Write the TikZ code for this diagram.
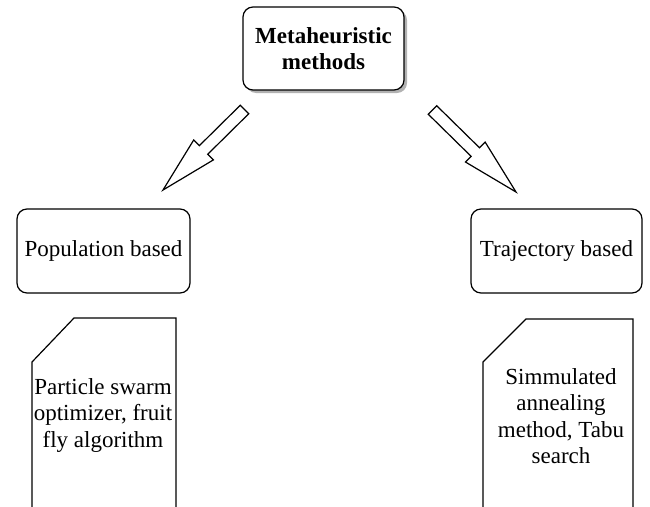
\documentclass[tikz,border=0pt]{standalone}
\usepackage{fontspec}
\setmainfont{Liberation Serif}
\usetikzlibrary{calc,shadows}

\tikzset{
  roundbox/.style={draw, line width=1.2pt, rounded corners=10pt, fill=white,
    align=center, inner sep=2pt, font=\fontsize{23}{26}\selectfont},
  topbox/.style={roundbox, font=\fontsize{23}{26}\selectfont\bfseries,
    drop shadow={shadow xshift=3pt, shadow yshift=-3pt, fill=gray!60, opacity=1}},
  docshape/.style={draw, line width=1.2pt},
  doctext/.style={align=center, inner sep=0pt, font=\fontsize{23}{26.5}\selectfont},
  blockar/.style={draw, line width=1.2pt, fill=white, line join=miter}
}

% hollow block arrow from tail #1 to tip #2
\newcommand\blockarrow[2]{%
  \coordinate (#1-base) at ($(#2)!57pt!(#1)$);
  \draw[blockar] ($(#1)!6pt!90:(#2)$) -- ($(#1-base)!6pt!90:(#2)$)
    -- ($(#1-base)!14pt!90:(#2)$) -- (#2)
    -- ($(#1-base)!14pt!-90:(#2)$) -- ($(#1-base)!6pt!-90:(#2)$)
    -- ($(#1)!6pt!-90:(#2)$) -- cycle;
}

\begin{document}
\begin{tikzpicture}[x=1pt, y=-1pt]
\useasboundingbox (0,0) rectangle (650,506);

% category boxes
\node[topbox, minimum width=161pt, minimum height=83pt] (meta) at (323.5,48.5)
  {Metaheuristic\\methods};
\node[roundbox, minimum width=173pt, minimum height=84pt] (pop) at (103.5,251)
  {Population based};
\node[roundbox, minimum width=171pt, minimum height=84pt] (traj) at (556.5,251)
  {Trajectory based};

% block arrows from the root to each category
\coordinate (lt) at (244.5,109.5);
\coordinate (lh) at (163,190);
\coordinate (rt) at (432.5,110);
\coordinate (rh) at (516,192);
\blockarrow{lt}{lh}
\blockarrow{rt}{rh}

% note sheets with clipped top-left corner
\draw[docshape] (32,512) -- (32,362) -- (74,318) -- (176,318) -- (176,512);
\draw[docshape] (483,512) -- (483,362) -- (526,319) -- (633,319) -- (633,512);

\node[doctext] (popex) at (103,415)
  {Particle swarm\\optimizer, fruit\\fly algorithm};
\node[doctext] (trajex) at (561,416)
  {Simmulated\\annealing\\method, Tabu\\search};
\end{tikzpicture}
\end{document}
